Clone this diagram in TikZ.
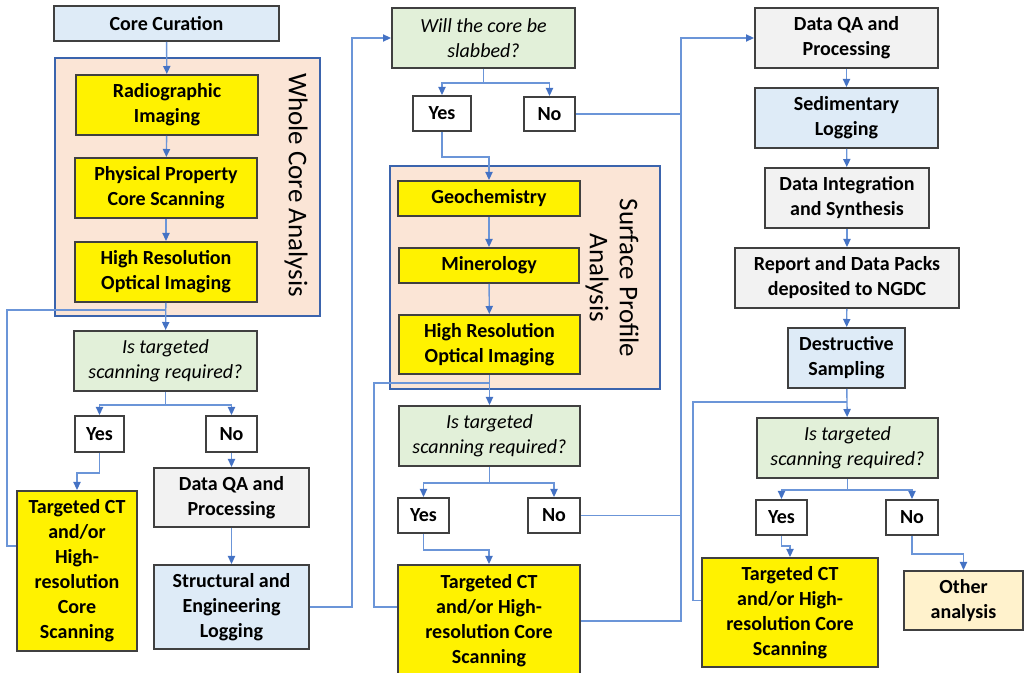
\documentclass[tikz,border=0pt]{standalone}
\usepackage{fontspec}
\setmainfont{Carlito}
\usepackage{tikz}
\usetikzlibrary{arrows.meta}
\definecolor{boxline}{HTML}{404040}
\definecolor{grpline}{HTML}{3B64AD}
\definecolor{flowblue}{HTML}{6B95D8}
\definecolor{tipblue}{HTML}{4472C4}
\definecolor{peach}{HTML}{FBE5D6}
\definecolor{lightblue}{HTML}{DEEBF7}
\definecolor{lightgrey}{HTML}{F2F2F2}
\definecolor{lightgreen}{HTML}{E2F0D9}
\definecolor{lightorange}{HTML}{FFF2CC}
\tikzset{
  base/.style={draw=boxline, line width=1pt, align=center, inner sep=1pt,
    font=\fontsize{10}{12.5}\selectfont\bfseries},
  yellowbox/.style={base, fill=yellow},
  bluebox/.style={base, fill=lightblue},
  greybox/.style={base, fill=lightgrey},
  questbox/.style={base, fill=lightgreen, font=\fontsize{10}{12.5}\selectfont\itshape},
  choicebox/.style={base, fill=white},
  otherbox/.style={base, fill=lightorange},
  groupbox/.style={draw=grpline, line width=0.9pt, fill=peach},
  grouplabel/.style={rotate=-90, align=center, font=\fontsize{13.5}{15}\selectfont},
  flow/.style={draw=flowblue, line width=0.7pt, -{Triangle[length=4pt,width=3.6pt,color=tipblue]}},
  joint/.style={draw=flowblue, line width=0.7pt}
}
% box from corner (x1,y1) to corner (x2,y2), in pixels of the layout
\newcommand{\blk}[7]{\node[#1, minimum width={(#5-#3)*0.5pt}, minimum height={(#6-#4)*0.5pt}]
  (#2) at ({(#3+#5)/2},{(#4+#6)/2}) {#7};}
\newcommand{\grp}[5]{\node[groupbox, minimum width={(#4-#2)*0.5pt}, minimum height={(#5-#3)*0.5pt}]
  (#1) at ({(#2+#4)/2},{(#3+#5)/2}) {};}

\begin{document}
\begin{tikzpicture}[x=0.5pt, y=-0.5pt]
\useasboundingbox (0,0) rectangle (1024,673);
%
% whole core column
\grp{wca}{55}{58}{320}{316}
\node[grouplabel] (wcal) at (296,185) {Whole Core Analysis};
\blk{bluebox}{cur}{54}{6}{279}{41}{Core Curation}
\blk{yellowbox}{rad}{76}{75}{258}{135}{Radiographic\\Imaging}
\blk{yellowbox}{phy}{75}{158}{257}{218}{Physical Property\\Core Scanning}
\blk{yellowbox}{hroa}{75}{242}{257}{302}{High Resolution\\Optical Imaging}
\blk{questbox}{qa}{74}{331}{257}{391}{Is targeted\\scanning required?}
\blk{choicebox}{yesa}{75}{416}{124}{452}{Yes}
\blk{choicebox}{noa}{206}{416}{257}{452}{No}
\blk{yellowbox}{cta}{17}{491}{137}{651}{Targeted CT\\and/or\\High-\\resolution\\Core\\Scanning}
\blk{greybox}{dqaa}{154}{468}{309}{527}{Data QA and\\Processing}
\blk{bluebox}{sel}{154}{565}{309}{649}{Structural and\\Engineering\\Logging}
%
% surface profile column
\grp{spa}{390}{166}{660}{389}
\node[grouplabel] (spal) at (612,278) {Surface Profile\\Analysis};
\blk{questbox}{slab}{392}{8}{575}{68}{Will the core be\\slabbed?}
\blk{choicebox}{yesb}{413}{96}{471}{131}{Yes}
\blk{choicebox}{nob}{524}{97}{575}{131}{No}
\blk{yellowbox}{geo}{398}{181}{580}{216}{Geochemistry}
\blk{yellowbox}{mine}{399}{248}{579}{283}{Minerology}
\blk{yellowbox}{hrob}{399}{315}{580}{374}{High Resolution\\Optical Imaging}
\blk{questbox}{qb}{399}{406}{580}{466}{Is targeted\\scanning required?}
\blk{choicebox}{yesc}{398}{498}{449}{533}{Yes}
\blk{choicebox}{noc}{528}{498}{580}{533}{No}
\blk{yellowbox}{ctb}{398}{565}{580}{677}{Targeted CT\\and/or High-\\resolution Core\\Scanning}
%
% data column
\blk{greybox}{dqab}{755}{8}{938}{68}{Data QA and\\Processing}
\blk{bluebox}{sed}{755}{88}{938}{148}{Sedimentary\\Logging}
\blk{greybox}{dis}{765}{168}{929}{228}{Data Integration\\and Synthesis}
\blk{greybox}{rep}{735}{248}{959}{308}{Report and Data Packs\\deposited to NGDC}
\blk{bluebox}{des}{788}{328}{905}{388}{Destructive\\Sampling}
\blk{questbox}{qc}{757}{418}{938}{478}{Is targeted\\scanning required?}
\blk{choicebox}{yesd}{756}{500}{807}{535}{Yes}
\blk{choicebox}{nod}{886}{500}{938}{535}{No}
\blk{yellowbox}{ctc}{702}{558}{878}{667}{Targeted CT\\and/or High-\\resolution Core\\Scanning}
\blk{otherbox}{oth}{904}{571}{1023}{630}{Other\\analysis}
%
\coordinate (ja) at (166,310);
\coordinate (jb) at (489,383);
\coordinate (jc) at (681,38);
\coordinate (jd) at (847,402);
%
% left column arrows
\draw[flow] (cur) -- (rad);
\draw[flow] (rad) -- (phy);
\draw[flow] (phy) -- (hroa);
\draw[flow] (hroa) -- (qa);
\draw[joint] ([yshift=12.5pt]cta.west) -- ++(-9,0) |- (ja);
\draw[flow] (qa.south) -- ++(0,13) -| (yesa.north);
\draw[flow] (qa.south) -- ++(0,13) -| (noa.north);
\draw[flow] (yesa.south) -- ++(0,20) -| (cta.north);
\draw[flow] (noa) -- (dqaa);
\draw[flow] (dqaa) -- (sel);
\draw[flow] (sel.east) -- ++(42,0) |- (slab.west);
%
% middle column arrows
\draw[flow] (slab.south) -- ++(0,14) -| (yesb.north);
\draw[flow] (slab.south) -- ++(0,14) -| (nob.north);
\draw[flow] (yesb.south) -- ++(0,25) -| (geo.north);
\draw[flow] (geo) -- (mine);
\draw[flow] (mine) -- (hrob);
\draw[flow] (hrob) -- (qb);
\draw[joint] ([yshift=7pt]ctb.west) -- ++(-23,0) |- (jb);
\draw[flow] (qb.south) -- ++(0,16) -| (yesc.north);
\draw[flow] (qb.south) -- ++(0,16) -| (noc.north);
\draw[flow] (yesc.south) -- ++(0,16) -| (ctb.north);
\draw[joint] (nob.east) -| (jc);
\draw[joint] (noc.east) -| (jc);
\draw[flow] (ctb.east) -| (jc) -- (dqab.west);
%
% right column arrows
\draw[flow] (dqab) -- (sed);
\draw[flow] (sed) -- (dis);
\draw[flow] (dis) -- (rep);
\draw[flow] (rep) -- (des);
\draw[flow] (des) -- (qc);
\draw[joint] ([yshift=6pt]ctc.west) -- ++(-8,0) |- (jd);
\draw[flow] (qc.south) -- ++(0,11) -| (yesd.north);
\draw[flow] (qc.south) -- ++(0,11) -| (nod.north);
\draw[flow] (yesd.south) -- ++(0,10) -| (ctc.north);
\draw[flow] (nod.south) -- ++(0,18) -| (oth.north);
\end{tikzpicture}
\end{document}
